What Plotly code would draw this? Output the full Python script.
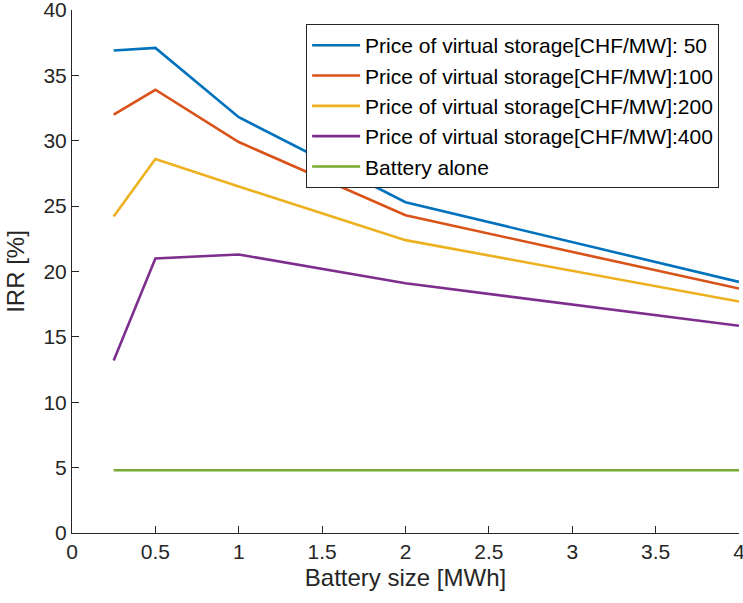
import plotly.graph_objects as go

battery_size = [0.25, 0.5, 1, 2, 4]
irr_50 = [36.9, 37.1, 31.8, 25.3, 19.2]
irr_100 = [32.0, 33.9, 29.9, 24.3, 18.7]
irr_200 = [24.2, 28.6, 26.5, 22.4, 17.7]
irr_400 = [13.2, 21.0, 21.3, 19.1, 15.85]
irr_battery = [4.8, 4.8, 4.8, 4.8, 4.8]

series_names = [
    "Price of virtual storage[CHF/MW]: 50",
    "Price of virtual storage[CHF/MW]:100",
    "Price of virtual storage[CHF/MW]:200",
    "Price of virtual storage[CHF/MW]:400",
    "Battery alone",
]
series_values = [irr_50, irr_100, irr_200, irr_400, irr_battery]
colors = ["#0072BD", "#D95319", "#EDB120", "#7E2F8E", "#77AC30"]

x_ticks = [0, 0.5, 1, 1.5, 2, 2.5, 3, 3.5, 4]
x_tick_text = ["0", "0.5", "1", "1.5", "2", "2.5", "3", "3.5", "4"]
y_ticks = [0, 5, 10, 15, 20, 25, 30, 35, 40]

fig = go.Figure()
for name, vals, c in zip(series_names, series_values, colors):
    fig.add_trace(go.Scatter(x=battery_size, y=vals, mode="lines", name=name,
                             line=dict(color=c, width=2.6)))

axis_col = "#262626"
fig.update_layout(
    width=743, height=603,
    margin=dict(l=72, r=4, t=10, b=70, autoexpand=False),
    paper_bgcolor="white", plot_bgcolor="white",
    font=dict(family="Liberation Sans, Arial, sans-serif", color=axis_col, size=21),
    showlegend=True,
    legend=dict(x=0.351, y=0.973, xanchor="left", yanchor="top",
                bordercolor=axis_col, borderwidth=1, bgcolor="white",
                font=dict(size=21, color="black"), tracegroupgap=0,
                itemwidth=48),
    xaxis=dict(range=[0, 4], tickvals=x_ticks, ticktext=x_tick_text,
               ticks="inside", ticklen=7, tickcolor=axis_col,
               showline=True, linecolor=axis_col, linewidth=1,
               showgrid=False, zeroline=False, mirror=False,
               ticklabeloverflow="allow", automargin=False,
               tickfont=dict(size=21, color=axis_col),
               title=dict(text="Battery size [MWh]", font=dict(size=24, color=axis_col), standoff=6)),
    yaxis=dict(range=[0, 40], tickvals=y_ticks,
               ticks="inside", ticklen=7, tickcolor=axis_col,
               showline=True, linecolor=axis_col, linewidth=1,
               showgrid=False, zeroline=False, mirror=False,
               ticklabeloverflow="allow", automargin=False,
               tickfont=dict(size=21, color=axis_col),
               title=dict(text="IRR [%]", font=dict(size=24, color=axis_col), standoff=12)),
)

fig.write_html("out.html")
